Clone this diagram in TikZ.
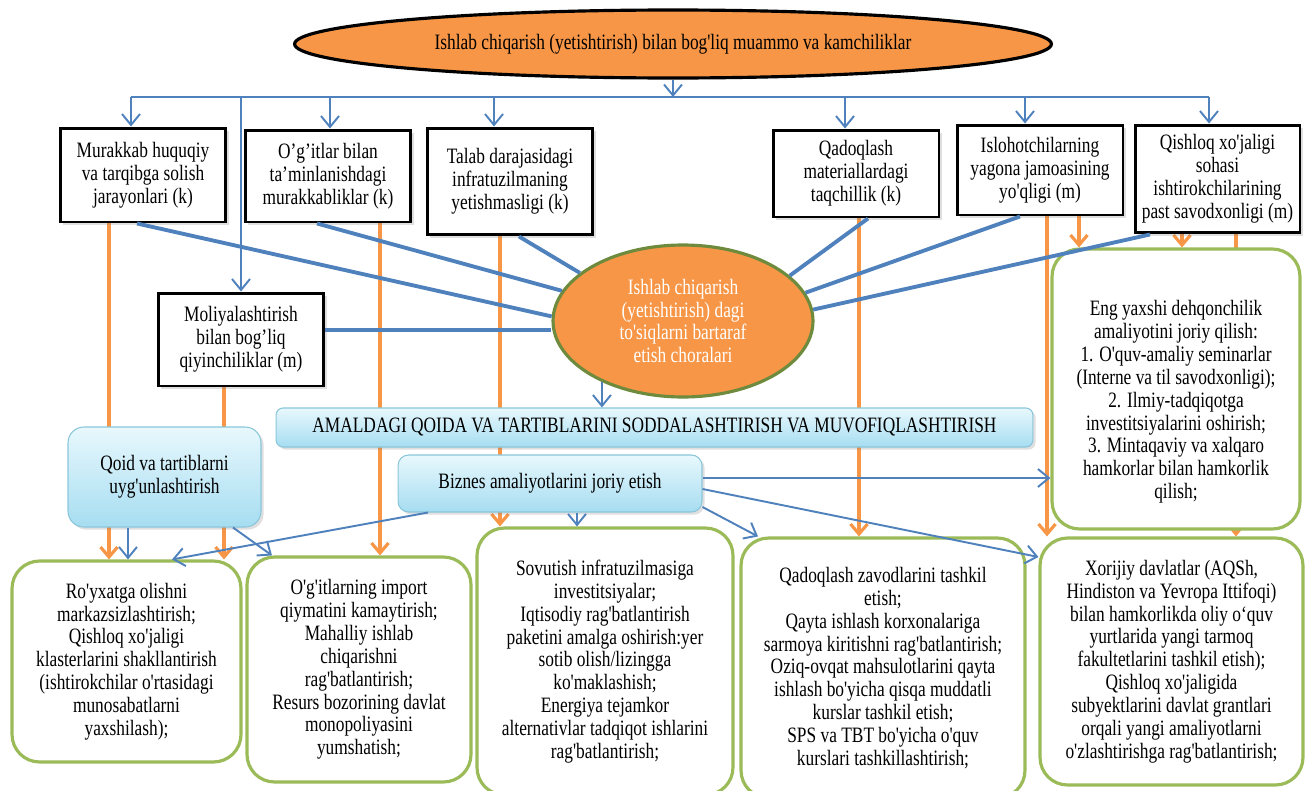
\documentclass[tikz,border=0pt]{standalone}
\usepackage{fontspec}
\setmainfont{Liberation Serif}[FakeStretch=0.79,Ligatures=TeXOff]
\usetikzlibrary{shapes.geometric,arrows.meta,calc,shadows}
\definecolor{org}{HTML}{F79646}
\definecolor{bl}{HTML}{4F81BD}
\definecolor{gr}{HTML}{9BBB59}
\definecolor{olv}{HTML}{6E8B3D}
\definecolor{lbt}{HTML}{E8F8FD}
\definecolor{lbb}{HTML}{A6DDF1}
\definecolor{lbd}{HTML}{8AC6DA}
\pgfdeclarelayer{bg}
\pgfsetlayers{bg,main}
\tikzset{
  txt/.style={font=\fontsize{12.5}{13}\selectfont, align=center, inner sep=0pt},
  shd/.style={drop shadow={opacity=0.25, shadow xshift=1.5pt, shadow yshift=-1.5pt}},
  pbox/.style={txt, draw=black, line width=1.7pt, fill=white, shd},
  gbox/.style={txt, draw=gr, line width=1.8pt, fill=white, rounded corners=0.55cm},
  lbox/.style={txt, draw=lbd, line width=0.6pt, top color=lbt, bottom color=lbb, shd},
  bthick/.style={draw=bl, line width=2.2pt},
  bdist/.style={draw=bl, line width=1.5pt},
  barr/.style={draw=bl, line width=1.1pt, -{Straight Barb[length=2.2mm,width=3.6mm]}},
  oarr/.style={draw=org, line width=1.8pt, -{Straight Barb[length=2mm,width=3.4mm]}}
}
\begin{document}
\begin{tikzpicture}[x=0.02cm,y=-0.02cm]
\useasboundingbox (0,0) rectangle (1305,791);
\clip (0,0) rectangle (1305,791);

% ---- nodes ----
\node[txt, ellipse, draw=black, line width=1.8pt, fill=org, minimum width=15.14cm, minimum height=1.36cm] (top) at (673,44)
  {Ishlab chiqarish (yetishtirish) bilan bog'liq muammo va kamchiliklar};

\node[pbox, minimum width=3.32cm, minimum height=1.88cm] (p1) at (143,175)   {Murakkab huquqiy\\va tarqibga solish\\jarayonlari (k)};
\node[pbox, minimum width=3.32cm, minimum height=1.84cm] (p2) at (328,176)   {O’g’itlar bilan\\ta’minlanishdagi\\murakkabliklar (k)};
\node[pbox, minimum width=3.32cm, minimum height=2.14cm] (p3) at (510,181.5) {Talab darajasidagi\\infratuzilmaning\\yetishmasligi (k)};
\node[pbox, minimum width=3.32cm, minimum height=1.74cm] (p4) at (856,173.5) {Qadoqlash\\materiallardagi\\taqchillik (k)};
\node[pbox, minimum width=3.32cm, minimum height=1.80cm] (p5) at (1040,170)  {Islohotchilarning\\yagona jamoasining\\yo'qligi (m)};
\node[pbox, minimum width=3.30cm, minimum height=2.16cm] (p6) at (1217.5,179) {Qishloq xo'jaligi\\sohasi\\ishtirokchilarining\\past savodxonligi (m)};
\node[pbox, minimum width=3.32cm, minimum height=1.86cm] (mol) at (241,339.5) {Moliyalashtirish\\bilan bog’liq\\qiyinchiliklar (m)};

\node[txt, ellipse, draw=olv, line width=1.8pt, fill=org, text=white, minimum width=5.2cm, minimum height=3.04cm] (mid) at (683,321)
  {Ishlab chiqarish\\(yetishtirish) dagi\\to'siqlarni bartaraf\\etish choralari};

\node[lbox, rounded corners=4pt, minimum width=15.14cm, minimum height=0.78cm] (amal) at (654.5,427.5)
  {AMALDAGI QOIDA VA TARTIBLARINI SODDALASHTIRISH VA MUVOFIQLASHTIRISH};
\node[lbox, rounded corners=9pt, minimum width=3.86cm, minimum height=2.0cm] (qd) at (164.5,477) {Qoid va tartiblarni\\uyg'unlashtirish};
\node[lbox, rounded corners=6pt, minimum width=6.08cm, minimum height=1.14cm] (bz) at (550,483.5) {Biznes amaliyotlarini joriy etish};

\node[gbox, minimum width=4.96cm, minimum height=5.6cm] (eng) at (1176,389) {};
\node[txt] (engt) at (1176,402)
  {Eng yaxshi dehqonchilik\\amaliyotini joriy qilish:\\1. O'quv-amaliy seminarlar\\(Interne va til savodxonligi);\\2. Ilmiy-tadqiqotga\\investitsiyalarini oshirish;\\3. Mintaqaviy va xalqaro\\hamkorlar bilan hamkorlik\\qilish;};

\node[gbox, minimum width=4.58cm, minimum height=4.02cm] (b1) at (126.5,661.5)
  {Ro'yxatga olishni\\markazsizlashtirish;\\Qishloq xo'jaligi\\klasterlarini shakllantirish\\(ishtirokchilar o'rtasidagi\\munosabatlarni\\yaxshilash);};
\node[gbox, minimum width=4.48cm, minimum height=4.5cm] (b2) at (359,669.5)
  {O'g'itlarning import\\qiymatini kamaytirish;\\Mahalliy ishlab\\chiqarishni\\rag'batlantirish;\\Resurs bozorining davlat\\monopoliyasini\\yumshatish;};
\node[gbox, minimum width=5.12cm, minimum height=5.34cm] (b3) at (605,661.5)
  {Sovutish infratuzilmasiga\\investitsiyalar;\\Iqtisodiy rag'batlantirish\\paketini amalga oshirish:yer\\sotib olish/lizingga\\ko'maklashish;\\Energiya tejamkor\\alternativlar tadqiqot ishlarini\\rag'batlantirish;};
\node[gbox, minimum width=5.68cm, minimum height=5.2cm] (b4) at (883,668)
  {Qadoqlash zavodlarini tashkil\\etish;\\Qayta ishlash korxonalariga\\sarmoya kiritishni rag'batlantirish;\\Oziq-ovqat mahsulotlarini qayta\\ishlash bo'yicha qisqa muddatli\\kurslar tashkil etish;\\SPS va TBT bo'yicha o'quv\\kurslari tashkillashtirish;};
\node[gbox, minimum width=5.26cm, minimum height=4.94cm] (b5) at (1171.5,661.5)
  {Xorijiy davlatlar (AQSh,\\Hindiston va Yevropa Ittifoqi)\\bilan hamkorlikda oliy o‘quv\\yurtlarida yangi tarmoq\\fakultetlarini tashkil etish);\\Qishloq xo'jaligida\\subyektlarini davlat grantlari\\orqali yangi amaliyotlarni\\o'zlashtirishga rag'batlantirish;};

% ---- helper coordinates ----
\coordinate (hl) at (131,97);
\coordinate (hr) at (1209,97);
\coordinate (d2) at (330,97);
\coordinate (d3) at (494,97);
\coordinate (d4) at (845,97);
\coordinate (d5) at (1025,97);
\coordinate (dm) at (241,97);
\coordinate (o1) at (109,0);
\coordinate (o2) at (224,0);
\coordinate (o3) at (380,0);
\coordinate (o4) at (500,0);
\coordinate (o5) at (859,0);
\coordinate (o6) at (1047,0);
\coordinate (o7) at (1079,0);
\coordinate (o8) at (1182,0);
\coordinate (o9) at (1236,0);
\coordinate (t1) at (428,0);
\coordinate (t2) at (172,0);
\coordinate (t3) at (128,0);
\coordinate (t4) at (233,0);
\coordinate (t5) at (272,0);
\coordinate (t6) at (577,0);
\coordinate (t8) at (758,0);
\coordinate (k1) at (137,0);
\coordinate (k2) at (317,0);
\coordinate (k3) at (519,0);
\coordinate (k5) at (868,0);
\coordinate (k6) at (1020,0);
\coordinate (k7) at (1150,0);
\coordinate (t7) at (0,507);
\coordinate (t9) at (0,489);
\coordinate (t10) at (0,557);
\coordinate (t11) at (0,478);
\coordinate (k4) at (0,330);

% ---- orange arrows (behind) ----
\begin{pgfonlayer}{bg}
\draw[oarr] (p1.south -| o1) -- (b1.north -| o1);
\draw[oarr] (mol.south -| o2) -- (b1.north -| o2);
\draw[oarr] (p2.south -| o3) -- (b2.north -| o3);
\draw[oarr] (p3.south -| o4) -- (b3.north -| o4);
\draw[oarr] (p4.south -| o5) -- (b4.north -| o5);
\draw[oarr] (p5.south -| o6) -- (b5.north -| o6);
\draw[oarr] (p5.south -| o7) -- (eng.north -| o7);
\draw[oarr] (p6.south -| o8) -- (eng.north -| o8);
\draw[oarr] (p6.south -| o9) -- (b5.north -| o9);
\end{pgfonlayer}

% ---- distribution from top ----
\draw[bdist] (hl) -- (hr);
\draw[barr] (top.south) -- (top.south |- hl);
\draw[barr] (hl) -- (p1.north -| hl);
\draw[barr] (d2) -- (p2.north -| d2);
\draw[barr] (d3) -- (p3.north -| d3);
\draw[barr] (d4) -- (p4.north -| d4);
\draw[barr] (d5) -- (p5.north -| d5);
\draw[barr] (hr) -- (p6.north -| hr);
\draw[barr] (dm) -- (mol.north);

% ---- thick blue lines to central ellipse ----
\draw[bthick] (p1.south -| k1) -- (mid.178);
\draw[bthick] (p2.south -| k2) -- (mid.166);
\draw[bthick] (p3.south -| k3) -- (mid.155);
\draw[bthick] (mol.east |- k4) -- (mid.west |- k4);
\draw[bthick] (p4.south -| k5) -- (mid.23);
\draw[bthick] (p5.south -| k6) -- (mid.13);
\draw[bthick] (p6.south -| k7) -- (mid.5);

% ---- thin blue arrows ----
\draw[barr] (mid.217) -- (mid.217 |- amal.north);
\draw[barr] (bz.south -| t1) -- (b1.north -| t2);
\draw[barr] (qd.south -| t3) -- (b1.north -| t3);
\draw[barr] (qd.south -| t4) -- (b2.north -| t5);
\draw[barr] (bz.south -| t6) -- (b3.north -| t6);
\draw[barr] (bz.east |- t7) -- (b4.north -| t8);
\draw[barr] (bz.east |- t9) -- (b5.west |- t10);
\draw[barr] (bz.east |- t11) -- (eng.west |- t11);
\end{tikzpicture}
\end{document}
